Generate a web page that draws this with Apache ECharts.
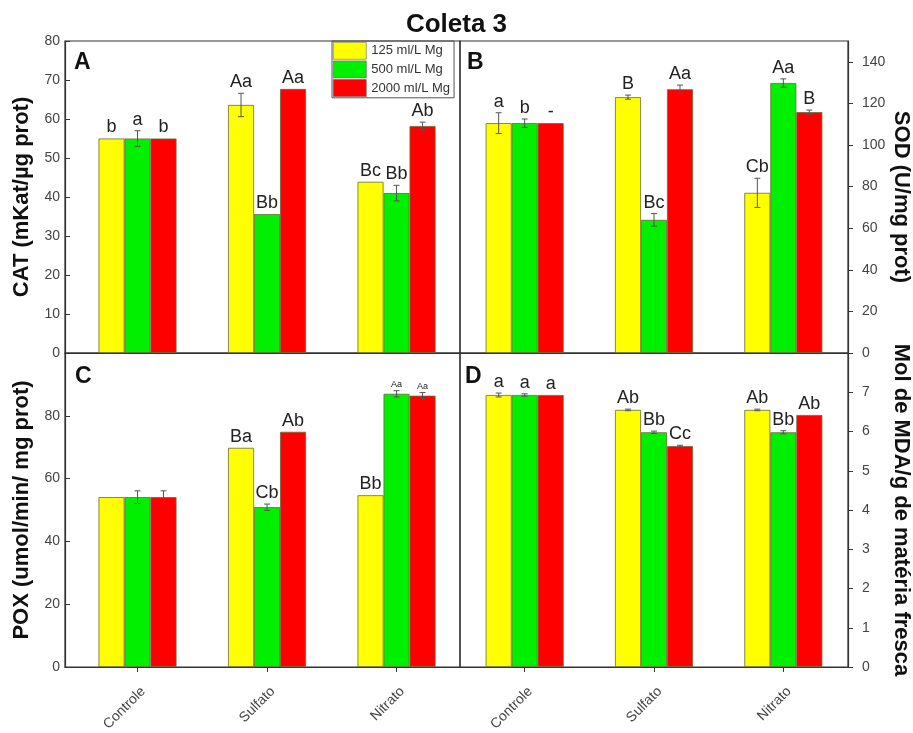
<!DOCTYPE html>
<html><head><meta charset="utf-8">
<script src="https://cdn.jsdelivr.net/npm/echarts@6/dist/echarts.min.js"></script>
<style>html,body{margin:0;padding:0;background:#fff}#c{width:913px;height:733px}</style>
</head><body><div id="c"></div>
<script>
// ---------- data ----------
const categories = ['Controle', 'Sulfato', 'Nitrato'];
const seriesNames = ['125 ml/L Mg', '500 ml/L Mg', '2000 ml/L Mg'];

// A: CAT (mKat/µg prot) — [125, 500, 2000] per category
const catValues = [[55.0, 55.0, 55.0], [63.6, 35.6, 67.7], [43.9, 41.0, 58.2]];
const catErrors = [[0, 2.0, 0], [3.0, 0, 0], [0, 2.0, 1.0]];
const catLabels = [['b', 'a', 'b'], ['Aa', 'Bb', 'Aa'], ['Bc', 'Bb', 'Ab']];

// B: SOD (U/mg prot)
const sodValues = [[110.5, 110.5, 110.5], [123.0, 64.0, 126.8], [77.0, 129.8, 115.8]];
const sodErrors = [[5.0, 2.0, 0], [1.0, 3.0, 2.0], [7.0, 2.0, 1.0]];
const sodLabels = [['a', 'b', '-'], ['B', 'Bc', 'Aa'], ['Cb', 'Aa', 'B']];

// C: POX (umol/min/ mg prot)
const poxValues = [[54.1, 54.1, 54.1], [69.8, 50.9, 74.9], [54.7, 87.0, 86.4]];
const poxErrors = [[0, 2.0, 2.0], [0, 1.0, 0], [0, 1.0, 1.0]];
const poxLabels = [['', '', ''], ['Ba', 'Cb', 'Ab'], ['Bb', 'Aa', 'Aa']];

// D: MDA (Mol de MDA/g de matéria fresca)
const mdaValues = [[6.93, 6.93, 6.93], [6.55, 5.98, 5.63], [6.55, 5.98, 6.42]];
const mdaErrors = [[0.05, 0.03, 0], [0.02, 0.03, 0.02], [0.02, 0.04, 0]];
const mdaLabels = [['a', 'a', 'a'], ['Ab', 'Bb', 'Cc'], ['Ab', 'Bb', 'Ab']];

// axis ticks
const catTicks = [0, 10, 20, 30, 40, 50, 60, 70, 80];
const sodTicks = [0, 20, 40, 60, 80, 100, 120, 140];
const poxTicks = [0, 20, 40, 60, 80];
const mdaTicks = [0, 1, 2, 3, 4, 5, 6, 7];

// ---------- style / layout ----------
const colors = ['#ffff00', '#00f000', '#ff0000'];
const BAR_W = 26;
const grids = [
  { left: 65, top: 41, width: 395, height: 312 },
  { left: 460, top: 41, width: 388, height: 312 },
  { left: 65, top: 353, width: 395, height: 314 },
  { left: 460, top: 353, width: 388, height: 314 }
];
const xRanges = [[0.44, 3.49], [0.5, 3.5], [0.44, 3.49], [0.5, 3.5]];
const yMax = [80, 150, 100, 8];
const panels = [
  { v: catValues, e: catErrors, l: catLabels, ticks: catTicks, name: 'CAT (mKat/µg prot)', side: 'left', letter: 'A' },
  { v: sodValues, e: sodErrors, l: sodLabels, ticks: sodTicks, name: 'SOD (U/mg prot)', side: 'right', letter: 'B' },
  { v: poxValues, e: poxErrors, l: poxLabels, ticks: poxTicks, name: 'POX (umol/min/ mg prot)', side: 'left', letter: 'C' },
  { v: mdaValues, e: mdaErrors, l: mdaLabels, ticks: mdaTicks, name: 'Mol de MDA/g de matéria fresca', side: 'right', letter: 'D' }
];
const smallLabels = { '2-2-1': true, '2-2-2': true };
const letterPos = [[69, 46], [462, 46], [70, 360], [460, 360]];

const xAxis = [], yAxis = [], series = [], titles = [];
titles.push({ text: 'Coleta 3', left: 'center', top: 7,
  textStyle: { fontFamily: 'Liberation Sans', fontSize: 26, fontWeight: 'bold', color: '#111' } });

panels.forEach((p, g) => {
  const bottomRow = g >= 2;
  const left = p.side === 'left';
  xAxis.push({
    type: 'value', gridIndex: g, min: xRanges[g][0], max: xRanges[g][1],
    axisLine: { show: true, onZero: false, lineStyle: { color: '#333', width: 1.2 } },
    axisTick: { show: bottomRow, customValues: [1, 2, 3], length: 5, lineStyle: { color: '#333' } },
    axisLabel: { show: bottomRow, customValues: [1, 2, 3], rotate: 45, margin: 28, padding: [0, -8, 0, 0],
      formatter: v => categories[Math.round(v) - 1] || '',
      fontFamily: 'Liberation Sans', fontSize: 14, color: '#444' },
    splitLine: { show: false }
  });
  yAxis.push({
    type: 'value', gridIndex: g, min: 0, max: yMax[g], position: p.side,
    name: p.name, nameLocation: 'middle', nameRotate: left ? 90 : -90,
    nameGap: left ? 32 : 42,
    nameTextStyle: { fontFamily: 'Liberation Sans', fontSize: 22, fontWeight: 'bold', color: '#111' },
    axisLine: { show: true, lineStyle: { color: '#333', width: 1.2 } },
    axisTick: { show: true, inside: left, customValues: p.ticks, length: 5, lineStyle: { color: '#333' } },
    axisLabel: { customValues: p.ticks, fontFamily: 'Liberation Sans', fontSize: 14, color: '#444', margin: left ? 5 : 14 },
    splitLine: { show: false }
  });
  titles.push({ text: p.letter, left: letterPos[g][0], top: letterPos[g][1],
    textStyle: { fontFamily: 'Liberation Sans', fontSize: 23, fontWeight: 'bold', color: '#111' } });

  const pxPerUnit = grids[g].height / yMax[g];
  seriesNames.forEach((sn, s) => {
    series.push({
      type: 'bar', name: sn, xAxisIndex: g, yAxisIndex: g,
      barWidth: BAR_W, barGap: '0%',
      itemStyle: { color: colors[s], borderColor: '#6a6a3a', borderWidth: 0.8 },
      data: categories.map((c, ci) => ({
        value: [ci + 1, p.v[ci][s]],
        label: {
          show: true, position: 'top',
          distance: 2 + p.e[ci][s] * pxPerUnit,
          formatter: p.l[ci][s],
          fontSize: smallLabels[g + '-' + ci + '-' + s] ? 9 : 18
        }
      })),
      label: { fontFamily: 'Liberation Sans', color: '#222' },
      emphasis: { disabled: true },
      z: 2
    });
  });
  series.push({
    type: 'custom', xAxisIndex: g, yAxisIndex: g, z: 5, silent: true,
    data: (function () {
      const d = [];
      categories.forEach((c, ci) => seriesNames.forEach((sn, s) => {
        if (p.e[ci][s] > 0) d.push([ci + 1, p.v[ci][s], p.e[ci][s], s - 1]);
      }));
      return d;
    })(),
    renderItem: function (params, api) {
      const x = api.value(0), y = api.value(1), e = api.value(2), off = api.value(3) * BAR_W;
      const top = api.coord([x, y + e]), bot = api.coord([x, y - e]);
      const cx = top[0] + off;
      return { type: 'group', children: [
        { type: 'line', shape: { x1: cx, y1: top[1], x2: cx, y2: bot[1] }, style: { stroke: '#555', lineWidth: 1 } },
        { type: 'line', shape: { x1: cx - 3, y1: top[1], x2: cx + 3, y2: top[1] }, style: { stroke: '#555', lineWidth: 1 } },
        { type: 'line', shape: { x1: cx - 3, y1: bot[1], x2: cx + 3, y2: bot[1] }, style: { stroke: '#555', lineWidth: 1 } }
      ] };
    }
  });
});

const chart = echarts.init(document.getElementById('c'), null, { renderer: 'canvas' });
chart.setOption({
  animation: false,
  backgroundColor: '#fff',
  title: titles,
  grid: grids.map(gr => Object.assign({ show: true, borderColor: '#333', borderWidth: 1.2,
    backgroundColor: 'transparent', containLabel: false, outerBoundsMode: 'none' }, gr)),
  legend: {
    data: seriesNames, orient: 'vertical', left: 332, top: 41,
    itemWidth: 33, itemHeight: 17, itemGap: 1, padding: [1, 4, 1, 1],
    borderColor: '#555', borderWidth: 1, icon: 'rect',
    itemStyle: { borderColor: '#666', borderWidth: 0.6 },
    textStyle: { fontFamily: 'Liberation Sans', fontSize: 13, color: '#333' },
    selectedMode: false
  },
  xAxis: xAxis,
  yAxis: yAxis,
  series: series
});
</script></body></html>
